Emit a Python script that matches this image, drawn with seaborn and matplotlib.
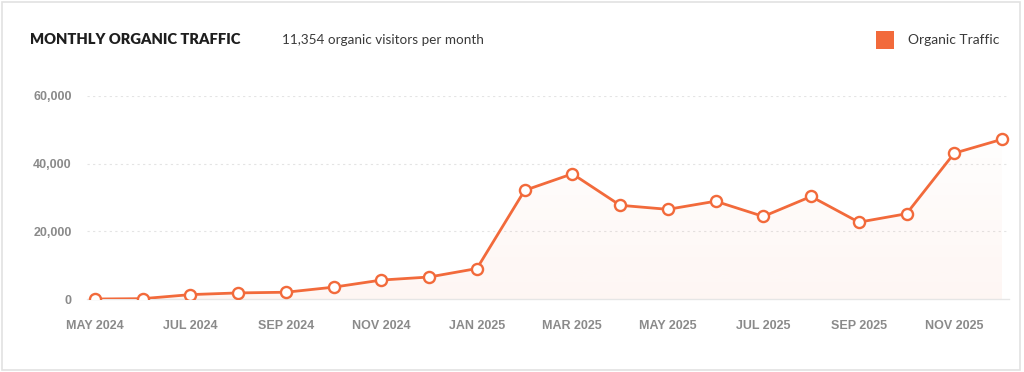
import numpy as np
import pandas as pd
import matplotlib
matplotlib.use("Agg")
import matplotlib.pyplot as plt
from matplotlib.patches import Rectangle
from matplotlib.colors import to_rgb
import seaborn as sns

months = ["MAY 2024", "JUN 2024", "JUL 2024", "AUG 2024", "SEP 2024", "OCT 2024",
          "NOV 2024", "DEC 2024", "JAN 2025", "FEB 2025", "MAR 2025", "APR 2025",
          "MAY 2025", "JUN 2025", "JUL 2025", "AUG 2025", "SEP 2025", "OCT 2025",
          "NOV 2025", "DEC 2025"]
traffic = [0, 100, 1300, 1800, 2000, 3500, 5600, 6500, 9000, 32100, 37000, 27700,
           26500, 28900, 24400, 30300, 22700, 25200, 43100, 47200]
y_ticks = [0, 20000, 40000, 60000]

ORANGE = "#F26A3B"
GRAY = "#8a8a8a"

sns.set_style("white")
plt.rcParams["font.family"] = ["Liberation Sans", "DejaVu Sans"]

df = pd.DataFrame({"idx": np.arange(len(months)), "month": months, "traffic": traffic})

fig = plt.figure(figsize=(10.24, 3.72), dpi=100)
ax = fig.add_axes([87 / 1024, (372 - 299) / 372, (1009 - 87) / 1024, (299 - 96) / 372])

# soft gradient under the line (stronger toward the bottom)
poly = ax.fill_between(df["idx"], df["traffic"], 0, color="none", lw=0)
grad = np.zeros((100, 1, 4))
grad[:, 0, :3] = to_rgb(ORANGE)
grad[:, 0, 3] = np.linspace(0.06, 0.01, 100)
img = ax.imshow(grad, aspect="auto", origin="lower",
                extent=[0, len(months) - 1, 0, max(traffic)], zorder=1)
img.set_clip_path(poly.get_paths()[0], transform=ax.transData)

sns.lineplot(data=df, x="idx", y="traffic", ax=ax, color=ORANGE, linewidth=2,
             marker="o", markersize=8, markerfacecolor="white",
             markeredgecolor=ORANGE, markeredgewidth=1.7, zorder=3)

step = (1002 - 95) / (len(months) - 1)
ax.set_xlim(-(95 - 87) / step, len(months) - 1 + (1009 - 1002) / step)
ax.set_ylim(0, 60000)
ax.set_yticks(y_ticks)
ax.set_yticklabels([f"{v:,}" for v in y_ticks])
ax.set_xticks(df["idx"][::2])
ax.set_xticklabels(months[::2])
ax.set_xlabel("")
ax.set_ylabel("")

for v in y_ticks[1:]:
    ax.axhline(v, color="#e4e4e4", lw=0.8, ls=(0, (2, 3)), zorder=0)

for s in ["top", "right", "left"]:
    ax.spines[s].set_visible(False)
ax.spines["bottom"].set_color("#e6e6e6")
ax.spines["bottom"].set_linewidth(1)

ax.tick_params(axis="y", length=0, pad=11, labelsize=9, labelcolor=GRAY)
ax.tick_params(axis="x", length=7, width=1, color="#e6e6e6", pad=8,
               labelsize=9, labelcolor=GRAY)
for lab in ax.get_xticklabels() + ax.get_yticklabels():
    lab.set_fontweight("bold")

# header
fig.text(30 / 1024, 1 - 40 / 372, "MONTHLY ORGANIC TRAFFIC", fontsize=10.6,
         fontweight="heavy", color="#1e1e1e", va="center", family=["Lato", "DejaVu Sans"])
fig.text(282 / 1024, 1 - 40 / 372, "11,354 organic visitors per month", fontsize=9.7,
         color="#3a3a3a", va="center", family=["Lato", "DejaVu Sans"])

# legend
fig.patches.append(Rectangle((876 / 1024, 1 - 49 / 372), 18 / 1024, 18 / 372,
                             transform=fig.transFigure, color=ORANGE, lw=0))
fig.text(908 / 1024, 1 - 40 / 372, "Organic Traffic", fontsize=10, color="#3a3a3a",
         va="center", family=["Lato", "DejaVu Sans"])

# card border
fig.patches.append(Rectangle((2 / 1024, 2 / 372), 1018 / 1024, 368 / 372,
                             transform=fig.transFigure, fill=False,
                             edgecolor="#e2e2e2", lw=1.2))

fig.savefig("out.png", dpi=100)
